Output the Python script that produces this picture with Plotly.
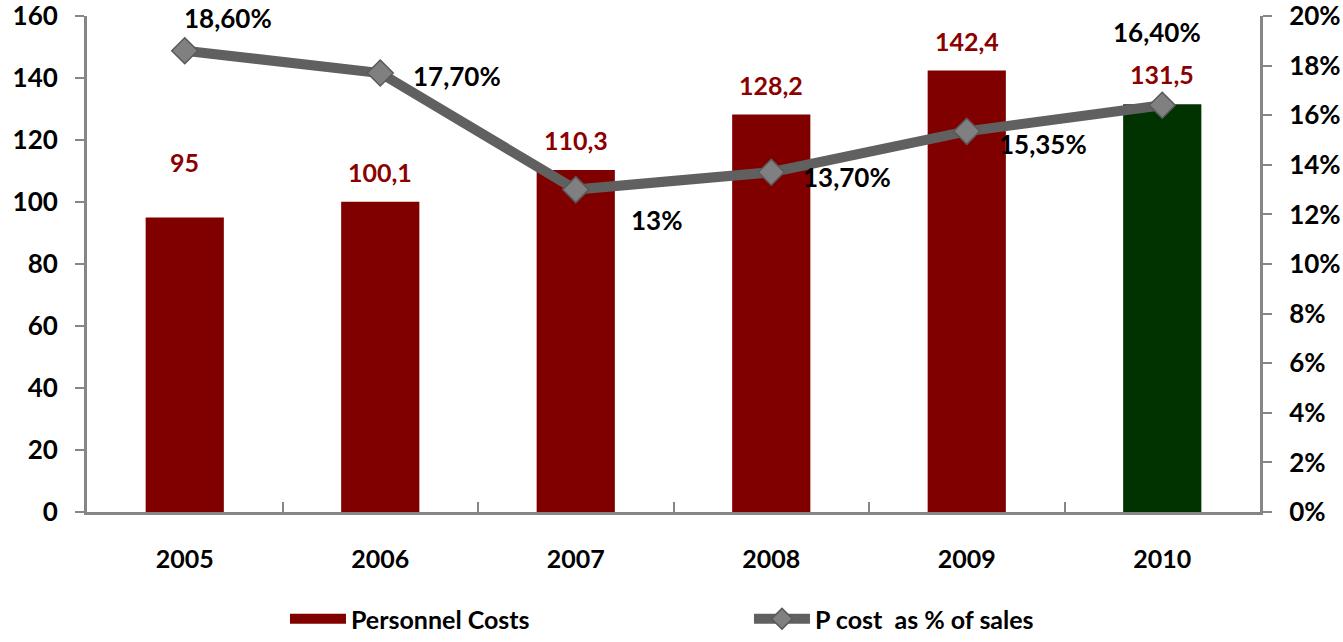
import plotly.graph_objects as go

years = ["2005", "2006", "2007", "2008", "2009", "2010"]
personnel_costs = [95, 100.1, 110.3, 128.2, 142.4, 131.5]
cost_labels = ["95", "100,1", "110,3", "128,2", "142,4", "131,5"]
pct_of_sales = [18.60, 17.70, 13.00, 13.70, 15.35, 16.40]
pct_labels = ["18,60%", "17,70%", "13%", "13,70%", "15,35%", "16,40%"]

bar_colors = ["#800000"] * 5 + ["#003300"]
FONT = "Lato"
AXIS_GREY = "#868686"

fig = go.Figure()

fig.add_trace(go.Bar(
    x=years, y=personnel_costs, name="Personnel Costs",
    marker=dict(color=bar_colors, line=dict(width=0)),
    width=0.4, yaxis="y", showlegend=False,
))
# wide swatch for the bar series in the legend
fig.add_trace(go.Scatter(
    x=[None], y=[None], name="<b>Personnel Costs</b>", mode="lines",
    line=dict(color="#800000", width=17), yaxis="y",
))

fig.add_trace(go.Scatter(
    x=years, y=pct_of_sales, name="<b>P cost  as % of sales</b>",
    mode="lines+markers", yaxis="y2",
    line=dict(color="#606060", width=10),
    marker=dict(symbol="diamond", size=20, color="#808080",
                line=dict(color="#595959", width=1.5)),
))

annotations = []
# value labels above the bars (x given as category index)
bar_label_shift = [56, 30, 30, 30, 30, 30]
for i, (v, t) in enumerate(zip(personnel_costs, cost_labels)):
    annotations.append(dict(x=i, y=v, xref="x", yref="y", text="<b>%s</b>" % t,
                            showarrow=False, yshift=bar_label_shift[i],
                            font=dict(family=FONT, size=25, color="#8b0000")))

# percentage labels around the line points (x offset, y offset in px)
offsets = [(43, 33), (77, -3), (81, -30), (76, -5), (76, -13), (-5, 73)]
for i, (v, t) in enumerate(zip(pct_of_sales, pct_labels)):
    dx, dy = offsets[i]
    annotations.append(dict(x=i, y=v, xref="x", yref="y2", text="<b>%s</b>" % t,
                            showarrow=False, xshift=dx, yshift=dy,
                            font=dict(family=FONT, size=26, color="black")))

tickfont = dict(family=FONT, size=26, color="black", weight="bold")

fig.update_layout(
    width=1343, height=642,
    margin=dict(l=87, r=83, t=16, b=130, autoexpand=False),
    plot_bgcolor="white", paper_bgcolor="white",
    font=dict(family=FONT),
    showlegend=True,
    annotations=annotations,
    legend=dict(orientation="h", x=0.2122, xanchor="left", xref="container",
                y=-0.011, yanchor="bottom", yref="container",
                font=dict(family=FONT, size=25, color="black"),
                entrywidth=393, entrywidthmode="pixels", itemwidth=56),
    xaxis=dict(
        type="category", range=[-0.5, 5.5], showgrid=False, showline=True,
        linecolor=AXIS_GREY, linewidth=3,
        ticks="inside", tickson="boundaries", ticklen=10, tickcolor=AXIS_GREY, tickwidth=2,
        tickfont=dict(family=FONT, size=25, color="black", weight="bold"),
        ticklabelstandoff=23,
    ),
    yaxis=dict(
        range=[0, 160], dtick=20, showgrid=False, zeroline=False,
        showline=True, linecolor=AXIS_GREY, linewidth=3,
        ticks="outside", ticklen=9, tickcolor=AXIS_GREY, tickwidth=2,
        tickfont=tickfont, ticklabelstandoff=12, ticklabeloverflow="allow",
    ),
    yaxis2=dict(
        range=[0, 20], dtick=2, overlaying="y", side="right", showgrid=False, zeroline=False,
        showline=True, linecolor=AXIS_GREY, linewidth=3,
        ticks="outside", ticklen=9, tickcolor=AXIS_GREY, tickwidth=2,
        ticksuffix="%", tickfont=tickfont, ticklabelstandoff=12, ticklabeloverflow="allow",
    ),
)

fig.write_html("out.html")
